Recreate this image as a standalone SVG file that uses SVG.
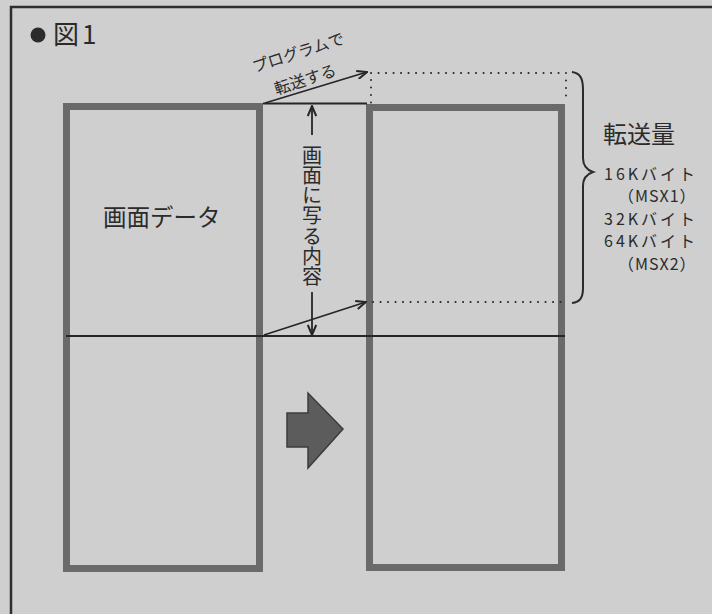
<svg xmlns="http://www.w3.org/2000/svg" width="712" height="614" viewBox="0 0 712 614">
  <style>
    text { font-family: "Noto Sans CJK JP", "Noto Sans", sans-serif; fill: #2b2b2b; }
    .frame { fill: none; stroke: #6a6a6a; stroke-width: 7; }
    .thin { fill: none; stroke: #262626; stroke-width: 1.8; }
    .dot { fill: none; stroke: #2b2b2b; stroke-width: 2; stroke-dasharray: 0.1 7.4; stroke-linecap: round; }
    .vert { writing-mode: vertical-rl; }
  </style>
  <defs>
    <marker id="head" viewBox="0 0 12 10" refX="11" refY="5" markerWidth="12" markerHeight="10" markerUnits="userSpaceOnUse" orient="auto">
      <path d="M1,0.8 L11,5 L1,9.2" fill="none" stroke="#262626" stroke-width="2"/>
    </marker>
  </defs>
  <rect x="0" y="0" width="712" height="614" fill="#cfcfcf"/>
  <path d="M11,614 L11,7 L712,7" fill="none" stroke="#2e2e2e" stroke-width="2.5"/>

  <g id="title">
    <circle cx="38" cy="35" r="7.5" fill="#2b2b2b"/>
    <text x="53" y="44" font-size="26" letter-spacing="3">図1</text>
  </g>

  <g id="source">
    <rect x="66.5" y="106.5" width="193" height="462" fill="#e4e4e4" class="frame"/>
    <text x="103" y="226" font-size="23.5">画面データ</text>
  </g>

  <g id="dest">
    <rect x="369.5" y="107.5" width="192" height="460" fill="#e9e9e9" class="frame"/>
  </g>

  <g id="block-arrow">
    <polygon points="287,413 308,413 308,393 343,429 308,468 308,447 287,447" fill="#5c5c5c" stroke="#3c3c3c" stroke-width="1.5"/>
  </g>

  <g id="connectors">
    <line x1="263" y1="103.5" x2="367" y2="103.5" class="thin"/>
    <line x1="66" y1="336" x2="565" y2="336" class="thin"/>
    <line x1="265" y1="103" x2="367" y2="72" class="thin" stroke-width="2.3" marker-end="url(#head)"/>
    <line x1="264" y1="335" x2="366" y2="302" class="thin" stroke-width="2.3" marker-end="url(#head)"/>
    <line x1="312" y1="135" x2="312" y2="106" class="thin" marker-end="url(#head)"/>
    <line x1="312" y1="292" x2="312" y2="335" class="thin" marker-end="url(#head)"/>
    <path d="M371,73 L566,73 L566,103" class="dot"/>
    <path d="M371,80 L371,103" class="dot"/>
    <path d="M373,302 L566,302" class="dot"/>
    <path d="M572,72 C580,73 583,78 583,90 L583,158 C583,166 587,170 593,172 C587,174 583,178 583,186 L583,288 C583,298 580,302 572,303" fill="none" stroke="#2b2b2b" stroke-width="2"/>
  </g>

  <g id="label-program">
    <text transform="translate(300,58) rotate(-18)" font-size="16" text-anchor="middle">プログラムで</text>
    <text transform="translate(307,85) rotate(-18)" font-size="16" text-anchor="middle">転送する</text>
  </g>

  <g id="label-screen">
    <text class="vert" x="312" y="145" font-size="20" letter-spacing="0.3">画面に写る内容</text>
  </g>

  <g id="label-amount">
    <text x="603" y="143" font-size="24">転送量</text>
    <text x="604" y="180" font-size="16" letter-spacing="3">16Kバイト</text>
    <text x="618" y="202" font-size="16" letter-spacing="1">（MSX1）</text>
    <text x="604" y="225" font-size="16" letter-spacing="3">32Kバイト</text>
    <text x="604" y="247" font-size="16" letter-spacing="3">64Kバイト</text>
    <text x="618" y="270" font-size="16" letter-spacing="1">（MSX2）</text>
  </g>
</svg>
